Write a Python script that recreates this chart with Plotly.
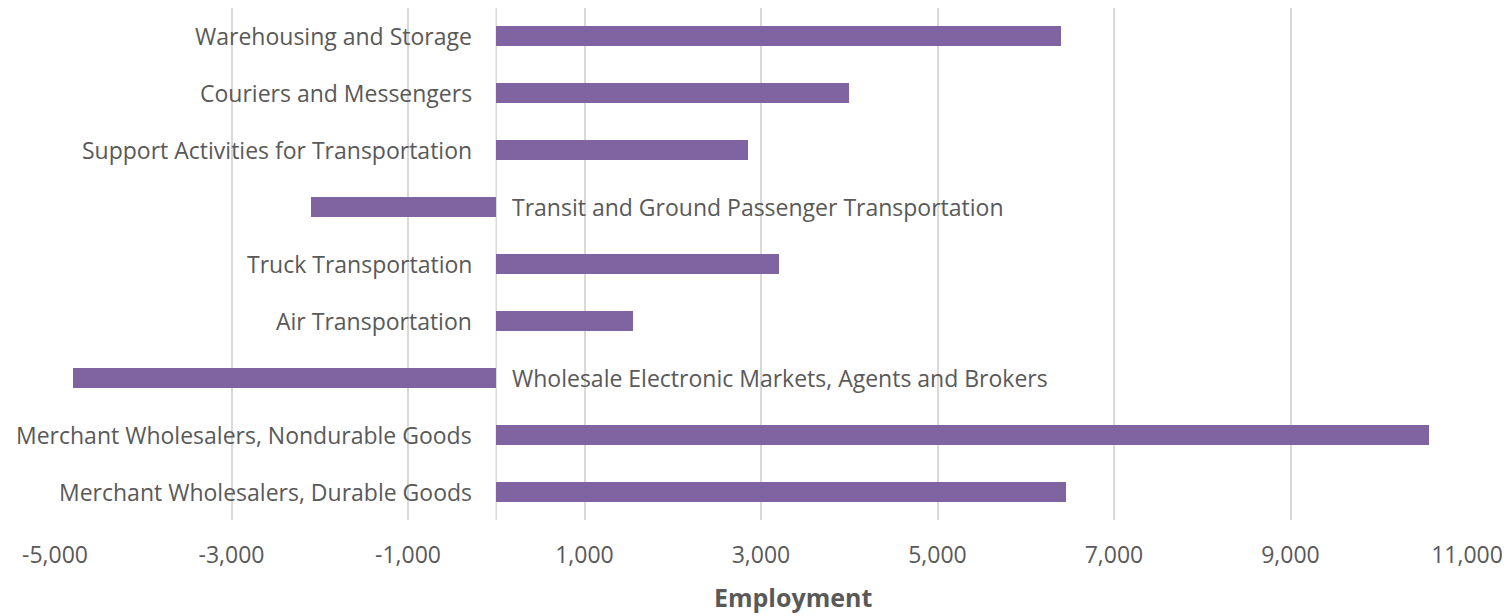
import plotly.graph_objects as go

categories = [
    "Merchant Wholesalers, Durable Goods",
    "Merchant Wholesalers, Nondurable Goods",
    "Wholesale Electronic Markets, Agents and Brokers",
    "Air Transportation",
    "Truck Transportation",
    "Transit and Ground Passenger Transportation",
    "Support Activities for Transportation",
    "Couriers and Messengers",
    "Warehousing and Storage",
]
values = [6460, 10570, -4800, 1550, 3200, -2100, 2850, 4000, 6400]
tick_values = [-5000, -3000, -1000, 1000, 3000, 5000, 7000, 9000, 11000]
tick_labels = ["-5,000", "-3,000", "-1,000", "1,000", "3,000", "5,000", "7,000", "9,000", "11,000"]

TEXT = "#595959"
FONT = "Open Sans"

fig = go.Figure()
fig.add_trace(go.Bar(
    x=values, y=categories, orientation="h",
    marker=dict(color="#8064A2", line=dict(width=0)),
    width=0.35,
))

for c, v in zip(categories, values):
    if v >= 0:
        fig.add_annotation(x=0, y=c, text=c, showarrow=False, xanchor="right",
                           xshift=-22, font=dict(family=FONT, size=23, color=TEXT))
    else:
        fig.add_annotation(x=0, y=c, text=c, showarrow=False, xanchor="left",
                           xshift=14, font=dict(family=FONT, size=23, color=TEXT))

# axis title
fig.add_annotation(xref="paper", yref="paper", x=0.5227, y=0, xanchor="center", yanchor="middle",
                   yshift=-77, text="<b>Employment</b>", showarrow=False,
                   font=dict(family=FONT, size=25, color=TEXT))

# page body has an 8px margin; compensate
fig.update_layout(
    width=1504, height=608,
    margin=dict(l=47, r=45, t=0, b=96),
    plot_bgcolor="white", paper_bgcolor="white",
    showlegend=False,
    bargap=0,
    xaxis=dict(
        range=[-5000, 11000], tickvals=tick_values, ticktext=tick_labels,
        showgrid=True, gridcolor="#d9d9d9", gridwidth=1.5,
        zeroline=False, showline=False, ticks="",
        tickfont=dict(family=FONT, size=23, color=TEXT),
        ticklabelstandoff=19,
        automargin=False,
    ),
    yaxis=dict(showticklabels=False, showgrid=False, zeroline=False, ticks="", automargin=False),
    shapes=[dict(type="line", xref="x", yref="paper", x0=0, x1=0, y0=0, y1=1,
                 line=dict(color="#d9d9d9", width=1.5), layer="below")],
)

fig.write_html("out.html")
